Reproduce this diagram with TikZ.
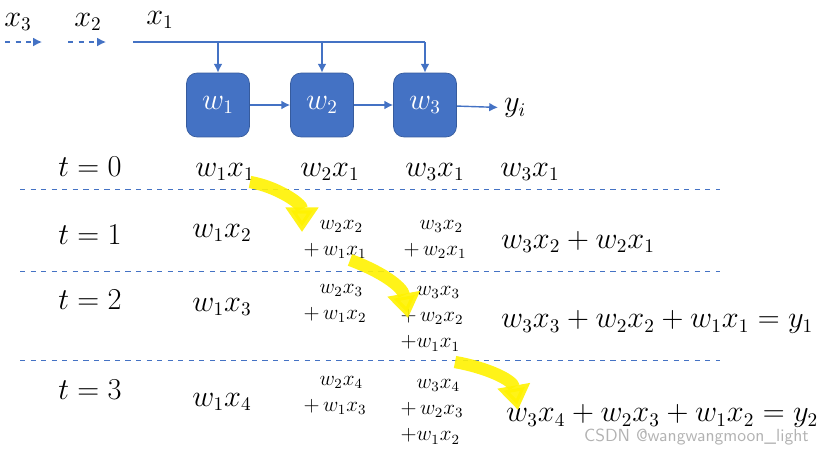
\documentclass[tikz,border=0pt]{standalone}
\usepackage{amsmath}
\usepackage{xcolor}
\usetikzlibrary{arrows.meta, positioning, calc}
\definecolor{cellblue}{HTML}{4472C4}
\definecolor{hilite}{HTML}{FFF200}
\tikzset{
    cell/.style={draw=cellblue!80!black, fill=cellblue, rounded corners=6pt, minimum width=1.26cm, minimum height=1.28cm, text=white, font=\fontsize{16}{19}\selectfont},
    flow/.style={-{Latex[length=5pt,width=5pt]}, cellblue, thick},
    big/.style={font=\fontsize{16}{19}\selectfont},
    small/.style={font=\fontsize{12}{13}\selectfont, align=left, inner sep=0pt},
    rowline/.style={cellblue, dashed, thin},
    handoff/.style={hilite, line width=7pt, -{Triangle[length=14pt,width=18pt]}}
}
\begin{document}
\begin{tikzpicture}[x=0.02cm, y=-0.02cm]
    \useasboundingbox (0,0) rectangle (821,453);
    % input stream
    \node[big] (x3) at (18,22) {$x_3$};
    \node[big] (x2) at (88,22) {$x_2$};
    \node[big] (x1) at (160,20) {$x_1$};
    \coordinate (d3a) at (5,42);  \coordinate (d3b) at (42,42);
    \coordinate (d2a) at (68,42); \coordinate (d2b) at (106,42);
    \draw[flow, dashed] (d3a) -- (d3b);
    \draw[flow, dashed] (d2a) -- (d2b);
    % cells
    \node[cell] (w1) at (218,105) {$w_1$};
    \node[cell] (w2) at (322,105) {$w_2$};
    \node[cell] (w3) at (425,105) {$w_3$};
    \node[big, anchor=west] (yi) at (498,108) {$y_i$};
    \coordinate (bus) at (133,42);
    \coordinate (busend) at (w3.north |- bus);
    \draw[cellblue, thick] (bus) -- (busend);
    \foreach \c in {w1,w2,w3} \draw[flow] (\c.north |- bus) -- (\c.north);
    \draw[flow] (w1) -- (w2);
    \draw[flow] (w2) -- (w3);
    \draw[flow] (w3) -- (yi);
    % row separators
    \foreach \y/\n in {189/a,271/b,360/c} {
        \coordinate (l\n) at (20,\y); \coordinate (r\n) at (720,\y);
        \draw[rowline] (l\n) -- (r\n);
    }
    % t = 0
    \node[big] (t0) at (90,167) {$t=0$};
    \node[big] (p01) at (225,172) {$w_1x_1$};
    \node[big] (p02) at (330,172) {$w_2x_1$};
    \node[big] (p03) at (435,172) {$w_3x_1$};
    \node[big] (p04) at (530,172) {$w_3x_1$};
    % t = 1
    \node[big] (t1) at (90,235) {$t=1$};
    \node[big] (p11) at (222,233) {$w_1x_2$};
    \node[small] (p12) at (335,238) {$\phantom{+}w_2x_2$\\[2pt]$+\,w_1x_1$};
    \node[small] (p13) at (435,238) {$\phantom{+}w_3x_2$\\[2pt]$+\,w_2x_1$};
    \node[big, anchor=west] (p14) at (495,242) {$w_3x_2+w_2x_1$};
    % t = 2
    \node[big] (t2) at (90,300) {$t=2$};
    \node[big] (p21) at (222,307) {$w_1x_3$};
    \node[small] (p22) at (335,302) {$\phantom{+}w_2x_3$\\[2pt]$+\,w_1x_2$};
    \node[small] (p23) at (432,317) {$\phantom{+}w_3x_3$\\[2pt]$+\,w_2x_2$\\[2pt]$+w_1x_1$};
    \node[big, anchor=west] (p24) at (495,322) {$w_3x_3+w_2x_2+w_1x_1=y_1$};
    % t = 3
    \node[big] (t3) at (90,390) {$t=3$};
    \node[big] (p31) at (222,402) {$w_1x_4$};
    \node[small] (p32) at (335,394) {$\phantom{+}w_2x_4$\\[2pt]$+\,w_1x_3$};
    \node[small] (p33) at (432,410) {$\phantom{+}w_3x_4$\\[2pt]$+\,w_2x_3$\\[2pt]$+w_1x_2$};
    \node[big, anchor=west] (p34) at (500,416) {$w_3x_4+w_2x_3+w_1x_2=y_2$};
    % highlighted hand-offs
    \coordinate (h1a) at (250,182); \coordinate (h1b) at (302,232);
    \coordinate (h2a) at (350,260); \coordinate (h2b) at (408,318);
    \coordinate (h3a) at (455,362); \coordinate (h3b) at (518,410);
    \draw[handoff, opacity=0.9] (h1a) to[out=-10,in=90] (h1b);
    \draw[handoff, opacity=0.9] (h2a) to[out=-20,in=100] (h2b);
    \draw[handoff, opacity=0.9] (h3a) to[out=-10,in=100] (h3b);
    \node[font=\fontsize{10}{12}\selectfont\sffamily, text=gray!60, anchor=east] (wm) at (815,437) {CSDN @wangwangmoon\_light};
\end{tikzpicture}
\end{document}
